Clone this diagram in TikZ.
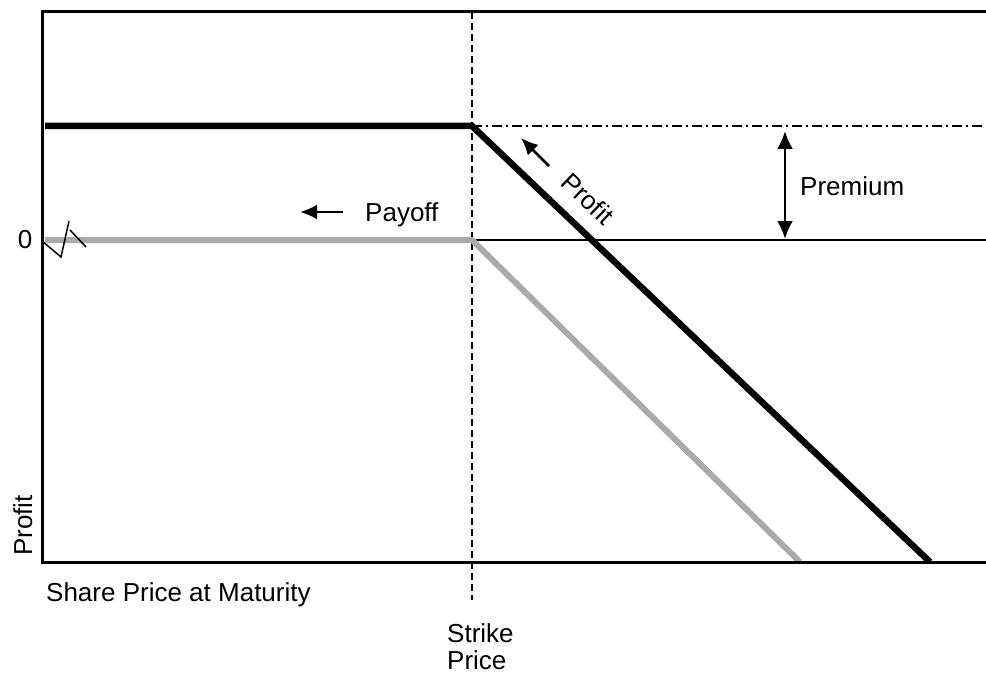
\documentclass[tikz,border=0pt]{standalone}
\usepackage{fontspec}
\setmainfont{Liberation Sans}
\usetikzlibrary{arrows.meta}
\definecolor{payoffgrey}{RGB}{170,170,170}
\begin{document}
\begin{tikzpicture}[x=1pt,y=-1pt,
  lbl/.style={font=\fontsize{26}{30}\selectfont, inner sep=0pt},
  axisline/.style={line width=3pt},
  profitline/.style={line width=6.5pt, black},
  payoffline/.style={line width=6pt, payoffgrey},
  zeroline/.style={line width=1.4pt},
  strikeline/.style={line width=1.4pt, dash pattern=on 7pt off 4pt},
  premiumline/.style={line width=2.2pt, dash pattern=on 10pt off 4pt on 2pt off 4pt},
  tagarrow/.style={line width=2.5pt, -{Latex[length=17pt,width=15pt]}},
  dblarrow/.style={line width=2.5pt, {Latex[length=18pt,width=16pt]}-{Latex[length=18pt,width=16pt]}},
  breakmark/.style={line width=1.5pt}
]
\useasboundingbox (0,0) rectangle (986,674);

% axis frame and reference points
\coordinate (tl) at (42,12);
\coordinate (tr) at (986,12);
\coordinate (bl) at (42,562);
\coordinate (br) at (986,562);
\coordinate (strikeTop) at (472,12);
\coordinate (strikeBot) at (472,600);
\coordinate (zeroK) at (472,240);
\coordinate (zeroR) at (986,240);
\coordinate (profK) at (472,126);
\coordinate (profR) at (986,126);
\coordinate (profL) at (45,126);
\coordinate (profEnd) at (930,562);
\coordinate (payL) at (45,240);
\coordinate (payK) at (472,240);
\coordinate (payEnd) at (800,562);

% zero level and strike marker
\draw[zeroline] (zeroK) -- (zeroR);
\draw[strikeline] (strikeTop) -- (strikeBot);
\draw[premiumline] (profK) -- (profR);

% payoff (grey) and profit (black) curves
\draw[payoffline] (payL) -- (payK) -- (payEnd);
\draw[profitline] (profL) -- (profK) -- (profEnd);

% frame
\draw[axisline] (tr) -- (tl) -- (bl) -- (br);

% axis break at zero
\draw[breakmark] (42,241) -- (61,257) -- (69,221);
\draw[breakmark] (70,230) -- (86,247);

% labels
\node[lbl] (zero) at (25,240) {0};
\node[lbl, anchor=base west] (payoffTxt) at (365,222) {Payoff};
\coordinate (payArrTail) at (343,212);
\coordinate (payArrTip) at (300,212);
\draw[tagarrow] (payArrTail) -- (payArrTip);

\node[lbl, rotate=-43.6] (profitTxt) at (588,199) {Profit};
\coordinate (profArrTail) at (549,166);
\coordinate (profArrTip) at (521,138);
\draw[tagarrow] (profArrTail) -- (profArrTip);

\coordinate (premTop) at (785,131);
\coordinate (premBot) at (785,239);
\draw[dblarrow] (premTop) -- (premBot);
\node[lbl, anchor=base west] (premTxt) at (800,196) {Premium};

\node[lbl, anchor=base west, rotate=90] (yTxt) at (32,556) {Profit};
\node[lbl, anchor=base west] (xTxt) at (46,601) {Share Price at Maturity};
\node[lbl, anchor=base west] (strikeTxt1) at (447,642) {Strike};
\node[lbl, anchor=base west] (strikeTxt2) at (447,669) {Price};
\end{tikzpicture}
\end{document}
